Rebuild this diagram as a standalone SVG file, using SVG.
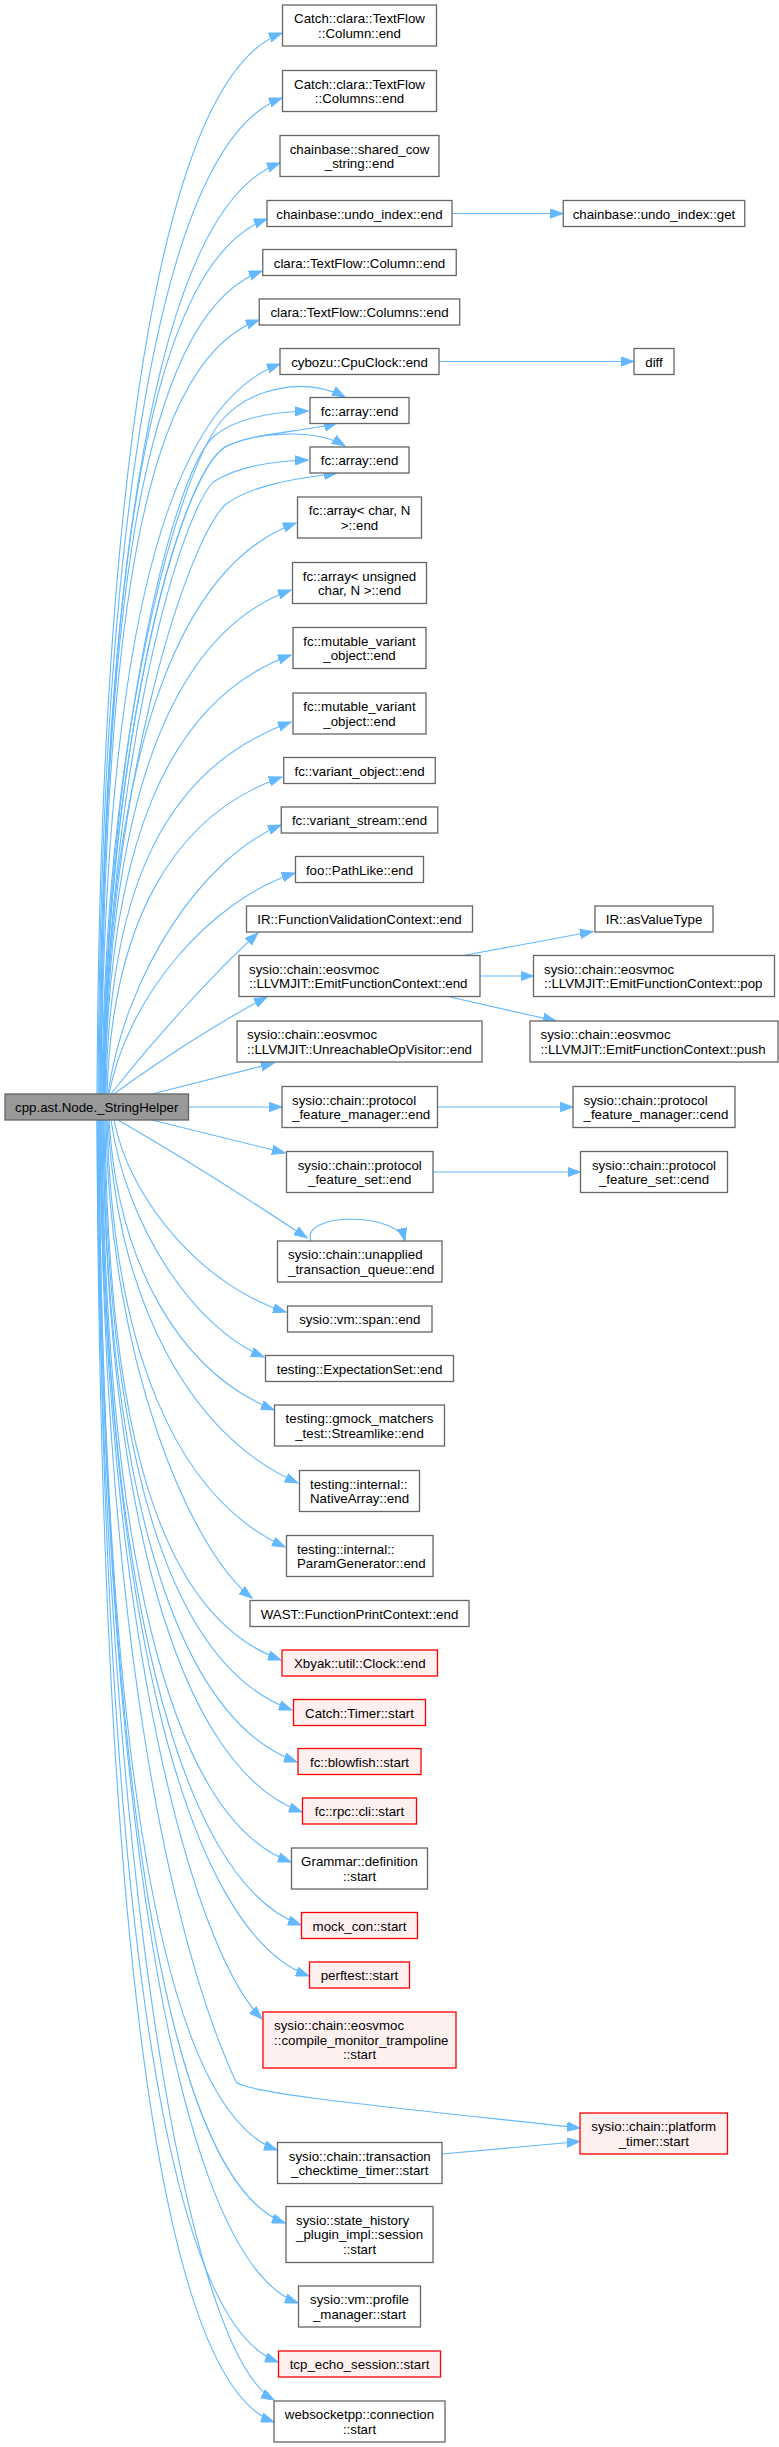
<svg xmlns="http://www.w3.org/2000/svg" width="779" height="2447" viewBox="0 0 779 2447">
<style>
text{font-family:"Liberation Sans",Arial,Helvetica,sans-serif;font-size:13.3px;fill:#000}
.n rect{fill:#fff;stroke:#666;stroke-width:1.3}
.r rect{fill:#fff0f0;stroke:#f00;stroke-width:1.3}
.s rect{fill:#999;stroke:#666;stroke-width:1.3}
.c{text-anchor:middle}
#edges path{fill:none;stroke:#63b8ff;stroke-width:1.1;marker-end:url(#ah)}
</style>
<defs>
<marker id="ah" markerWidth="14" markerHeight="10" refX="13" refY="5" orient="auto" markerUnits="userSpaceOnUse"><path d="M0,0.3 L13,5 L0,9.7 z" fill="#63b8ff" stroke="#63b8ff" stroke-width="1"/></marker>
</defs>
<rect width="779" height="2447" fill="#fff"/>
<g id="edges">
<path d="M97,1094 C100,500 157,78 282,33"/>
<path d="M98,1094 C101,536 157,143 282,98"/>
<path d="M99,1094 C102,573 155,208 280,163"/>
<path d="M100,1094 C103,604 142,264 267,219"/>
<path d="M100,1094 C103,633 137,316 262,271"/>
<path d="M101,1094 C104,661 134,365 259,320"/>
<path d="M101,1094 C104,685 155,409 280,364"/>
<path d="M102,1094 C105,720 180,470 222,420 C250,388 305,376 345,397"/>
<path d="M103,1094 C106,750 170,480 213,437 C235,418 270,412 308,411"/>
<path d="M103,1094 C106,760 175,480 225,447 C255,432 305,432 337,423"/>
<path d="M103,1094 C106,760 175,480 225,447 C255,432 315,428 345,446"/>
<path d="M104,1094 C107,780 175,525 213,482 C235,468 270,461 308,460"/>
<path d="M104,1094 C107,790 185,545 225,505 C250,485 300,478 337,473"/>
<path d="M104,1094 C107,774 171,568 296,523"/>
<path d="M105,1094 C108,812 166,635 291,590"/>
<path d="M105,1094 C108,848 166,700 291,655"/>
<path d="M106,1094 C109,886 166,767 291,722"/>
<path d="M107,1094 C112,925 172,815 282,777"/>
<path d="M108,1094 C125,973 203,857 281,825"/>
<path d="M109,1094 C128,995 211,900 295,873"/>
<path d="M111,1094 C155,1038 214,973 258,933"/>
<path d="M114,1094 C160,1060 221,1021 267,997"/>
<path d="M152,1094 L274,1063"/>
<path d="M188.5,1107 L282,1107"/>
<path d="M152,1120 L285,1153"/>
<path d="M118,1120 C170,1150 250,1200 307,1238"/>
<path d="M311,1241 C300,1212 398,1212 405,1241"/>
<path d="M114,1120 C131,1206 209,1289 286,1312"/>
<path d="M111,1120 C126,1227 195,1329 264,1357"/>
<path d="M109,1120 C118,1265 180,1372 274,1410"/>
<path d="M108,1120 C117,1301 190,1436 298,1483"/>
<path d="M107,1120 C113,1346 174,1496 285,1547"/>
<path d="M106,1120 C109,1360 190,1550 252,1598"/>
<path d="M105,1120 C108,1422 156,1615 281,1660"/>
<path d="M104,1120 C107,1450 167,1665 292,1710"/>
<path d="M103,1120 C106,1479 172,1717 297,1762"/>
<path d="M103,1120 C106,1507 177,1767 302,1812"/>
<path d="M102,1120 C105,1535 166,1817 291,1862"/>
<path d="M101,1120 C104,1571 176,1880 301,1925"/>
<path d="M101,1120 C104,1599 184,1931 309,1976"/>
<path d="M100,1120 C103,1623 192,1949 262,2019"/>
<path d="M100,1120 C104,1650 175,1950 236,2082 C250,2095 420,2110 580,2128"/>
<path d="M99,1120 C102,1697 152,2105 277,2150"/>
<path d="M99,1120 C102,1738 160,2178 285,2223"/>
<path d="M98,1120 C101,1783 173,2258 298,2303"/>
<path d="M98,1120 C101,1815 153,2317 278,2362"/>
<path d="M97,1120 C100,1837 184,2350 274,2400"/>
<path d="M97,1120 C100,1849 149,2377 274,2422"/>
<path d="M452,213.5 L563,213.5"/>
<path d="M439,361.5 L634,361.5"/>
<path d="M463,955.5 L593,931.5"/>
<path d="M480,976 L533.5,976"/>
<path d="M450,997 L556,1021"/>
<path d="M437.5,1107 L573,1107"/>
<path d="M433,1172 L580.5,1172"/>
<path d="M442,2154 L580,2141.5"/>
</g>
<g id="src" class="s"><rect x="5" y="1094" width="183.5" height="26"/><text class="c" x="96.75" y="1112">cpp.ast.Node._StringHelper</text></g>
<g id="n1" class="n"><rect x="282.5" y="5" width="154" height="41"/><text class="c" x="359.5" y="23.3">Catch::clara::TextFlow</text><text class="c" x="359.5" y="37.8">::Column::end</text></g>
<g id="n2" class="n"><rect x="282.5" y="70.5" width="154" height="41"/><text class="c" x="359.5" y="88.8">Catch::clara::TextFlow</text><text class="c" x="359.5" y="103.3">::Columns::end</text></g>
<g id="n3" class="n"><rect x="280" y="135.5" width="159" height="41"/><text class="c" x="359.5" y="153.8">chainbase::shared_cow</text><text class="c" x="359.5" y="168.3">_string::end</text></g>
<g id="n4" class="n"><rect x="267" y="200.5" width="185" height="26"/><text class="c" x="359.5" y="218.5">chainbase::undo_index::end</text></g>
<g id="n5" class="n"><rect x="262.75" y="249.5" width="193.5" height="26"/><text class="c" x="359.5" y="267.5">clara::TextFlow::Column::end</text></g>
<g id="n6" class="n"><rect x="259.25" y="299" width="200.5" height="26"/><text class="c" x="359.5" y="317">clara::TextFlow::Columns::end</text></g>
<g id="n7" class="n"><rect x="280" y="348.5" width="159" height="26"/><text class="c" x="359.5" y="366.5">cybozu::CpuClock::end</text></g>
<g id="n8" class="n"><rect x="310" y="397.5" width="99" height="26"/><text class="c" x="359.5" y="415.5">fc::array::end</text></g>
<g id="n9" class="n"><rect x="310" y="447" width="99" height="26"/><text class="c" x="359.5" y="465">fc::array::end</text></g>
<g id="n10" class="n"><rect x="297.5" y="497" width="124" height="41"/><text class="c" x="359.5" y="515.3">fc::array&lt; char, N</text><text class="c" x="359.5" y="529.8">&gt;::end</text></g>
<g id="n11" class="n"><rect x="292.5" y="562.5" width="134" height="41"/><text class="c" x="359.5" y="580.8">fc::array&lt; unsigned</text><text class="c" x="359.5" y="595.3">char, N &gt;::end</text></g>
<g id="n12" class="n"><rect x="293" y="627.5" width="133" height="41"/><text class="c" x="359.5" y="645.8">fc::mutable_variant</text><text class="c" x="359.5" y="660.3">_object::end</text></g>
<g id="n13" class="n"><rect x="293" y="693" width="133" height="41"/><text class="c" x="359.5" y="711.3">fc::mutable_variant</text><text class="c" x="359.5" y="725.8">_object::end</text></g>
<g id="n14" class="n"><rect x="283.75" y="757.5" width="151.5" height="26"/><text class="c" x="359.5" y="775.5">fc::variant_object::end</text></g>
<g id="n15" class="n"><rect x="281.25" y="807" width="156.5" height="26"/><text class="c" x="359.5" y="825">fc::variant_stream::end</text></g>
<g id="n16" class="n"><rect x="295.5" y="856.5" width="128" height="26"/><text class="c" x="359.5" y="874.5">foo::PathLike::end</text></g>
<g id="n17" class="n"><rect x="246.5" y="906" width="226" height="26"/><text class="c" x="359.5" y="924">IR::FunctionValidationContext::end</text></g>
<g id="n18" class="n"><rect x="239" y="955.5" width="241" height="41"/><text x="249" y="973.8">sysio::chain::eosvmoc</text><text x="249" y="988.3">::LLVMJIT::EmitFunctionContext::end</text></g>
<g id="n19" class="n"><rect x="237" y="1021" width="245" height="41"/><text x="247" y="1039.3">sysio::chain::eosvmoc</text><text x="247" y="1053.8">::LLVMJIT::UnreachableOpVisitor::end</text></g>
<g id="n20" class="n"><rect x="282" y="1086.5" width="155.5" height="41"/><text x="292" y="1104.8">sysio::chain::protocol</text><text x="292" y="1119.3">_feature_manager::end</text></g>
<g id="n21" class="n"><rect x="286.5" y="1151.5" width="146.5" height="41"/><text class="c" x="359.75" y="1169.8">sysio::chain::protocol</text><text class="c" x="359.75" y="1184.3">_feature_set::end</text></g>
<g id="n22" class="n"><rect x="277.5" y="1241" width="164.5" height="41"/><text x="288" y="1259.3">sysio::chain::unapplied</text><text x="288" y="1273.8">_transaction_queue::end</text></g>
<g id="n23" class="n"><rect x="287.5" y="1306" width="144.5" height="26"/><text class="c" x="359.75" y="1324">sysio::vm::span::end</text></g>
<g id="n24" class="n"><rect x="265.5" y="1355.5" width="188" height="26"/><text class="c" x="359.5" y="1373.5">testing::ExpectationSet::end</text></g>
<g id="n25" class="n"><rect x="274.5" y="1405" width="170" height="41"/><text class="c" x="359.5" y="1423.3">testing::gmock_matchers</text><text class="c" x="359.5" y="1437.8">_test::Streamlike::end</text></g>
<g id="n26" class="n"><rect x="299.5" y="1470.5" width="120" height="41"/><text x="310" y="1488.8">testing::internal::</text><text x="310" y="1503.3">NativeArray::end</text></g>
<g id="n27" class="n"><rect x="286.5" y="1535.5" width="146.5" height="41"/><text x="297" y="1553.8">testing::internal::</text><text x="297" y="1568.3">ParamGenerator::end</text></g>
<g id="n28" class="n"><rect x="250" y="1600.5" width="219" height="26"/><text class="c" x="359.5" y="1618.5">WAST::FunctionPrintContext::end</text></g>
<g id="n29" class="r"><rect x="282" y="1650" width="155.5" height="26"/><text class="c" x="359.75" y="1668">Xbyak::util::Clock::end</text></g>
<g id="n30" class="r"><rect x="293.5" y="1699.5" width="132" height="26"/><text class="c" x="359.5" y="1717.5">Catch::Timer::start</text></g>
<g id="n31" class="r"><rect x="298" y="1748.5" width="123" height="26"/><text class="c" x="359.5" y="1766.5">fc::blowfish::start</text></g>
<g id="n32" class="r"><rect x="302.5" y="1798" width="114" height="26"/><text class="c" x="359.5" y="1816">fc::rpc::cli::start</text></g>
<g id="n33" class="n"><rect x="291.5" y="1848" width="136" height="41"/><text class="c" x="359.5" y="1866.3">Grammar::definition</text><text class="c" x="359.5" y="1880.8">::start</text></g>
<g id="n34" class="r"><rect x="301.5" y="1912.5" width="116" height="26"/><text class="c" x="359.5" y="1930.5">mock_con::start</text></g>
<g id="n35" class="r"><rect x="309.5" y="1962" width="100" height="26"/><text class="c" x="359.5" y="1980">perftest::start</text></g>
<g id="n36" class="r"><rect x="263" y="2012" width="193" height="56"/><text x="274" y="2030.3">sysio::chain::eosvmoc</text><text x="274" y="2044.8">::compile_monitor_trampoline</text><text class="c" x="359.5" y="2059.3">::start</text></g>
<g id="n37" class="n"><rect x="277.5" y="2142.5" width="164.5" height="41"/><text class="c" x="359.75" y="2160.8">sysio::chain::transaction</text><text class="c" x="359.75" y="2175.3">_checktime_timer::start</text></g>
<g id="n38" class="n"><rect x="286" y="2206.5" width="147" height="56"/><text x="296" y="2224.8">sysio::state_history</text><text x="296" y="2239.3">_plugin_impl::session</text><text class="c" x="359.5" y="2253.8">::start</text></g>
<g id="n39" class="n"><rect x="298.5" y="2286" width="122" height="41"/><text class="c" x="359.5" y="2304.3">sysio::vm::profile</text><text class="c" x="359.5" y="2318.8">_manager::start</text></g>
<g id="n40" class="r"><rect x="278.5" y="2351" width="162" height="26"/><text class="c" x="359.5" y="2369">tcp_echo_session::start</text></g>
<g id="n41" class="n"><rect x="274" y="2401" width="171" height="41"/><text class="c" x="359.5" y="2419.3">websocketpp::connection</text><text class="c" x="359.5" y="2433.8">::start</text></g>
<g id="r1" class="n"><rect x="563.25" y="200.5" width="181.5" height="26"/><text class="c" x="654" y="218.5">chainbase::undo_index::get</text></g>
<g id="r2" class="n"><rect x="634" y="348.5" width="40" height="26"/><text class="c" x="654" y="366.5">diff</text></g>
<g id="r3" class="n"><rect x="595" y="906" width="118" height="26"/><text class="c" x="654" y="924">IR::asValueType</text></g>
<g id="r4" class="n"><rect x="533.5" y="955.5" width="241" height="41"/><text x="544" y="973.8">sysio::chain::eosvmoc</text><text x="544" y="988.3">::LLVMJIT::EmitFunctionContext::pop</text></g>
<g id="r5" class="n"><rect x="530" y="1021" width="248" height="41"/><text x="540.5" y="1039.3">sysio::chain::eosvmoc</text><text x="540.5" y="1053.8">::LLVMJIT::EmitFunctionContext::push</text></g>
<g id="r6" class="n"><rect x="573" y="1086.5" width="162" height="41"/><text x="583.5" y="1104.8">sysio::chain::protocol</text><text x="583.5" y="1119.3">_feature_manager::cend</text></g>
<g id="r7" class="n"><rect x="580.5" y="1151.5" width="147" height="41"/><text class="c" x="654" y="1169.8">sysio::chain::protocol</text><text class="c" x="654" y="1184.3">_feature_set::cend</text></g>
<g id="r8" class="r"><rect x="580" y="2113" width="147.5" height="41"/><text class="c" x="653.75" y="2131.3">sysio::chain::platform</text><text class="c" x="653.75" y="2145.8">_timer::start</text></g>
</svg>
